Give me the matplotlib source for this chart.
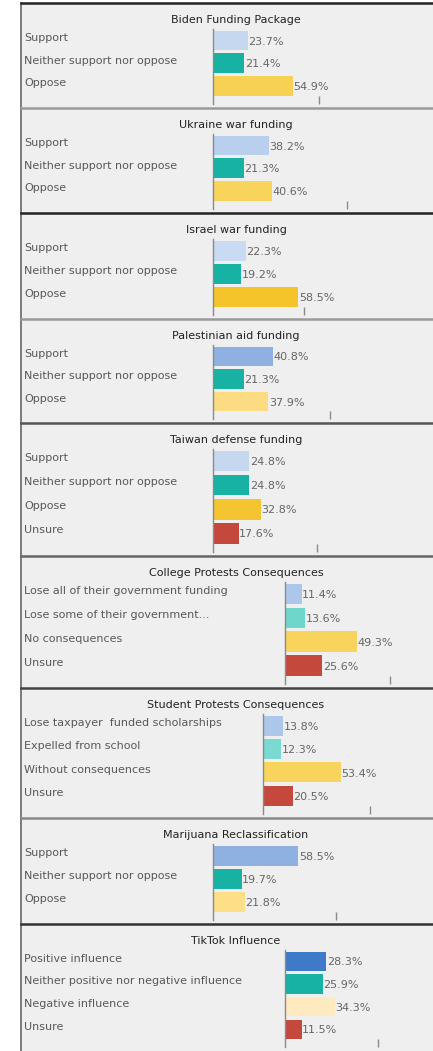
import matplotlib
matplotlib.use('Agg')
import matplotlib.pyplot as plt
from matplotlib.transforms import blended_transform_factory
from matplotlib.patches import Rectangle
from matplotlib.lines import Line2D

# ---------------- data ----------------
titles = ["Biden Funding Package", "Ukraine war funding", "Israel war funding",
          "Palestinian aid funding", "Taiwan defense funding",
          "College Protests Consequences", "Student Protests Consequences",
          "Marijuana Reclassification", "TikTok Influence"]

cats_biden = ["Support", "Neither support nor oppose", "Oppose"]
vals_biden = [23.7, 21.4, 54.9]
cats_ukraine = ["Support", "Neither support nor oppose", "Oppose"]
vals_ukraine = [38.2, 21.3, 40.6]
cats_israel = ["Support", "Neither support nor oppose", "Oppose"]
vals_israel = [22.3, 19.2, 58.5]
cats_palest = ["Support", "Neither support nor oppose", "Oppose"]
vals_palest = [40.8, 21.3, 37.9]
cats_taiwan = ["Support", "Neither support nor oppose", "Oppose", "Unsure"]
vals_taiwan = [24.8, 24.8, 32.8, 17.6]
cats_college = ["Lose all of their government funding", "Lose some of their government...",
                "No consequences", "Unsure"]
vals_college = [11.4, 13.6, 49.3, 25.6]
cats_student = ["Lose taxpayer  funded scholarships", "Expelled from school",
                "Without consequences", "Unsure"]
vals_student = [13.8, 12.3, 53.4, 20.5]
cats_marij = ["Support", "Neither support nor oppose", "Oppose"]
vals_marij = [58.5, 19.7, 21.8]
cats_tiktok = ["Positive influence", "Neither positive nor negative influence",
               "Negative influence", "Unsure"]
vals_tiktok = [28.3, 25.9, 34.3, 11.5]

# axis tick value (percent) shown on each panel
tick_vals = [72.5, 92, 62, 80, 71, 72, 73, 84, 64]

all_cats = [cats_biden, cats_ukraine, cats_israel, cats_palest, cats_taiwan,
            cats_college, cats_student, cats_marij, cats_tiktok]
all_vals = [vals_biden, vals_ukraine, vals_israel, vals_palest, vals_taiwan,
            vals_college, vals_student, vals_marij, vals_tiktok]

# ---------------- styles ----------------
RED = '#c4483b'
TEAL = '#17b2a3'
all_colors = [
    ['#c6d8f0', TEAL, '#f7d154'],
    ['#b9cfee', TEAL, '#f8d45c'],
    ['#c9dbf2', TEAL, '#f5c42a'],
    ['#8fb1e2', TEAL, '#fbdc82'],
    ['#c6d8f0', TEAL, '#f5c531', RED],
    ['#adc7ea', '#6fd6cc', '#f8d45c', RED],
    ['#adc7ea', '#7ad9d0', '#f8d45c', RED],
    ['#8fb1e2', TEAL, '#fcdf86'],
    ['#3f79c9', TEAL, '#fdebbf', RED],
]

W, H = 433, 1051
panel_edges = [3, 108, 213, 319, 423, 556, 688, 818, 924, 1051]
axis_x = [213, 213, 213, 213, 213, 285, 263, 213, 285]
sep_colors = ['#222222', '#9a9a9a', '#222222', '#9a9a9a', '#555555',
              '#666666', '#444444', '#888888', '#333333']
PX = 1.46  # pixels per percent
FS = 8

fig = plt.figure(figsize=(W / 100, H / 100), dpi=100)
fig.patch.set_facecolor('white')


def fx(x):
    return x / W


def fy(y):
    return 1 - y / H


fig.patches.append(Rectangle((fx(21), 0), 1, fy(3), transform=fig.transFigure,
                             facecolor='#efefef', edgecolor='none', zorder=-3))
# left border
fig.lines.append(Line2D([fx(21), fx(21)], [0, fy(3)], transform=fig.transFigure,
                        color='#666666', lw=1.2, zorder=-2))
for i in range(9):
    top = panel_edges[i]
    fig.lines.append(Line2D([fx(21), 1], [fy(top), fy(top)], transform=fig.transFigure,
                            color=sep_colors[i], lw=1.8, zorder=-2))

for i in range(9):
    top, bot = panel_edges[i], panel_edges[i + 1]
    cats, vals, cols = all_cats[i], all_vals[i], all_colors[i]
    n = len(cats)
    ax0 = axis_x[i]
    ax_top = top + 26
    ax_bot = bot - 4
    ax = fig.add_axes([fx(ax0), fy(ax_bot), (W - ax0) / W, (ax_bot - ax_top) / H])
    ax.set_facecolor('none')
    ax.barh(range(n), vals, height=0.86, color=cols, zorder=2)
    ax.set_xlim(0, (W - ax0) / PX)
    ax.set_ylim(n - 1 + 0.78, -0.5)
    for s in ['top', 'right', 'bottom']:
        ax.spines[s].set_visible(False)
    ax.spines['left'].set_color('#8a8a8a')
    ax.spines['left'].set_linewidth(1.0)
    ax.spines['left'].set_zorder(3)
    ax.set_yticks([])
    ax.set_xticks([tick_vals[i]])
    ax.set_xticklabels([])
    ax.tick_params(axis='x', direction='in', length=6, width=1, color='#8a8a8a')
    trans = blended_transform_factory(fig.transFigure, ax.transData)
    for j, (c, v) in enumerate(zip(cats, vals)):
        ax.text(fx(24), j - 0.12, c, transform=trans, ha='left', va='center',
                fontsize=FS, color='#585858')
        ax.text(v + 0.5 / PX, j + 0.05, f"{v}%", ha='left', va='center',
                fontsize=FS, color='#666666')
    fig.text(fx(236), fy(top + 17), titles[i], ha='center', va='center',
             fontsize=FS, color='#222222')

fig.savefig('out.png', dpi=100, facecolor='white')
